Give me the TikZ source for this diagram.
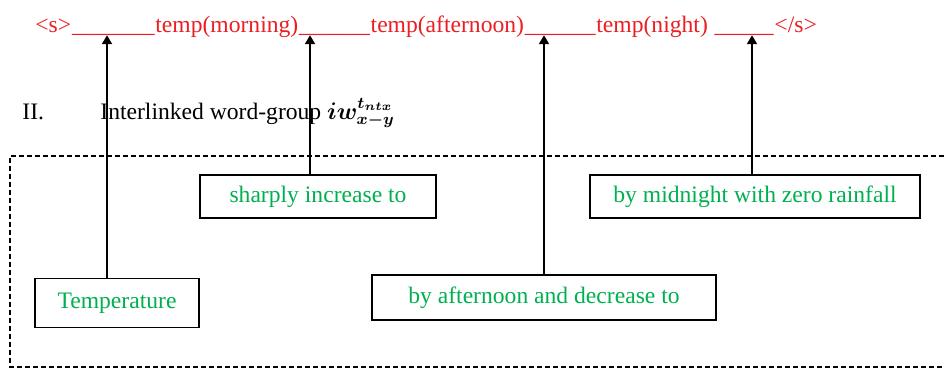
\documentclass[tikz,border=0pt]{standalone}
\usepackage{amsmath,amssymb}
\usepackage{fontspec}
\setmainfont{Liberation Serif}
\usepackage{tikz}
\usetikzlibrary{arrows.meta,positioning}
\definecolor{tokred}{RGB}{235,30,35}
\definecolor{wordgreen}{RGB}{0,176,80}

\begin{document}
\begin{tikzpicture}[x=0.5pt, y=-0.5pt,
      tok/.style={text=tokred, font=\fontsize{11.8}{14}\selectfont, inner sep=0pt, anchor=base west},
      lbl/.style={font=\fontsize{11.8}{14}\selectfont, inner sep=0pt, anchor=base west},
      wbox/.style={draw, line width=0.7pt, text=wordgreen, font=\fontsize{11.8}{14}\selectfont,
                   inner sep=0pt, align=center},
      arr/.style={-{Triangle[length=4.5pt,width=5pt]}, line width=1pt, shorten >=1.6pt},
      frame/.style={line width=0.8pt, dash pattern=on 2.5pt off 1.5pt}
  ]
    \useasboundingbox (0,0) rectangle (945,370);
    \clip (0,0) rectangle (945,370);
    % sentence template
    \node[tok] (s) at (35,32) {<s>};
    \node[tok, base right=0pt of s] (u1) {\_\_\_\_\_\_\_};
    \node[tok, base right=0pt of u1] (tm) {temp(morning)};
    \node[tok, base right=0pt of tm] (u2) {\_\_\_\_\_\_};
    \node[tok, base right=0pt of u2] (ta) {temp(afternoon)};
    \node[tok, base right=0pt of ta] (u3) {\_\_\_\_\_\_};
    \node[tok, base right=0pt of u3] (tn) {temp(night)};
    \node[tok, base right=3pt of tn] (u4) {\_\_\_\_\_};
    \node[tok, base right=0pt of u4] (e) {</s>};
    % heading
    \node[lbl] (num) at (22,119) {II.};
    \node[lbl] (head) at (100,119) {Interlinked word-group};
    \node[lbl, base right=2.5pt of head] (sym) {$\boldsymbol{iw_{x-y}^{t_{ntx}}}$};
    % word groups
    \draw[frame] (960,156) -- (10,156) -- (10,367) -- (960,367);
    \node[wbox, minimum width=82pt, minimum height=24.5pt] (w1) at (117,303) {Temperature};
    \node[wbox, minimum width=118pt, minimum height=21.5pt] (w2) at (318,196.5) {sharply increase to};
    \node[wbox, minimum width=172pt, minimum height=22.5pt] (w3) at (544,297.5) {by afternoon and decrease to};
    \node[wbox, minimum width=165pt, minimum height=21.5pt] (w4) at (755,196.5) {by midnight with zero rainfall};
    \draw[arr] ([xshift=-5pt]w1.north) -- ([xshift=-5pt]w1.north |- u1.base);
    \draw[arr] ([xshift=-4pt]w2.north) -- ([xshift=-4pt]w2.north |- u2.base);
    \draw[arr] (w3.north) -- (w3.north |- u3.base);
    \draw[arr] ([xshift=-1.5pt]w4.north) -- ([xshift=-1.5pt]w4.north |- u4.base);
  \end{tikzpicture}
\end{document}
